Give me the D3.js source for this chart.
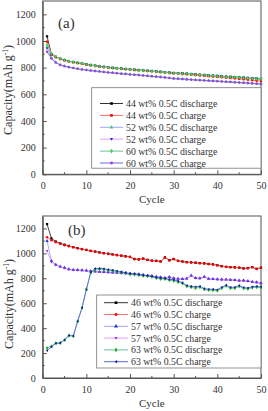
<!DOCTYPE html>
<html>
<head>
<meta charset="utf-8">
<script src="https://cdn.jsdelivr.net/npm/d3@7"></script>
<style>
  body { margin: 0; background: #fff; }
  svg text { font-family: "Liberation Serif"; }
</style>
</head>
<body>
<div id="chart"></div>
<script>
// ---- data ----
const cycles = d3.range(1, 51);
const yTicks = [0, 200, 400, 600, 800, 1000, 1200];
const xTicks = [0, 10, 20, 30, 40, 50];

// panel (a)
const a44Discharge = [1035,900,880,866,857,849,842,836,831,825,820,815,810,806,802,799,796,793,790,787,785,782,780,777,775,772,769,766,763,760,758,757,755,752,750,747,745,742,740,737,735,733,731,729,727,725,722,720,718,715];
const a44Charge    = [995,898,878,864,855,846,840,834,828,822,817,812,808,804,800,797,794,791,788,785,782,780,777,775,772,769,766,763,760,757,755,752,750,747,744,741,738,736,733,730,728,725,722,719,716,713,710,706,702,698];
const a52Discharge = [955,872,840,822,812,805,798,792,787,783,779,775,772,768,765,762,759,756,753,750,747,745,742,739,736,733,730,727,723,719,717,715,713,711,709,707,705,703,701,699,697,695,693,691,689,687,685,683,681,678];
const a52Charge    = [945,902,882,867,858,850,843,837,832,826,821,816,811,807,803,800,797,794,791,788,786,783,781,778,776,773,770,767,764,761,759,758,756,753,751,748,746,744,742,739,737,735,733,731,729,727,725,723,721,718];
const a60Discharge = [972,905,884,868,859,849,842,836,831,825,820,815,810,805,801,798,795,792,789,786,784,781,778,776,773,770,768,765,762,759,757,755,754,751,749,746,744,741,739,736,734,732,730,728,726,724,721,719,717,714];
const a60Charge    = [920,868,838,820,811,803,797,791,786,782,778,774,771,767,764,761,758,755,752,749,746,744,741,738,735,732,729,726,722,718,716,714,712,710,708,706,704,702,700,698,696,694,692,690,688,686,684,682,680,677];

// panel (b)
const b46Discharge = [1235,1120,1095,1080,1070,1060,1050,1042,1035,1028,1020,1015,1008,1002,997,992,987,982,977,972,955,952,958,948,942,940,935,968,945,955,940,935,930,928,925,922,920,915,912,905,898,892,890,888,885,880,882,890,876,885];
const b46Charge    = [1130,1105,1090,1077,1066,1058,1049,1041,1034,1027,1020,1014,1007,1001,996,991,986,981,976,971,954,951,957,947,941,939,934,966,944,954,939,934,929,927,924,921,919,914,911,904,897,891,889,887,884,879,881,889,875,884];
const b57Discharge = [1100,940,910,895,885,872,868,866,865,862,858,855,853,851,849,847,845,842,840,838,835,832,828,822,818,812,808,804,810,800,797,795,798,822,802,800,812,797,795,792,790,790,788,786,782,782,778,772,768,760];
const b57Charge    = [1020,930,905,892,882,870,866,864,863,860,856,853,851,849,847,845,843,840,838,836,833,830,826,820,816,810,806,802,808,798,795,793,796,820,800,798,810,795,793,790,788,788,786,784,780,780,776,770,766,758];
const b63Discharge = [240,255,280,282,305,340,335,455,565,715,845,868,872,870,865,860,852,848,842,832,830,826,820,818,812,802,795,795,785,780,770,758,735,728,720,728,710,706,705,700,720,738,720,720,735,718,715,725,728,725];
const b63Charge    = [220,250,278,280,305,342,338,455,562,708,848,878,880,876,870,865,858,852,846,838,836,831,825,822,817,808,802,800,792,788,778,765,742,736,732,736,718,712,712,708,728,745,728,728,742,726,722,732,736,732];

const FONT = "Liberation Serif";

const triDown = { draw: (ctx, s) => { const r = Math.sqrt(s) * 0.6; ctx.moveTo(0, r); ctx.lineTo(r, -r * 0.7); ctx.lineTo(-r, -r * 0.7); ctx.closePath(); } };
const triLeft = { draw: (ctx, s) => { const r = Math.sqrt(s) * 0.6; ctx.moveTo(-r, 0); ctx.lineTo(r * 0.7, -r); ctx.lineTo(r * 0.7, r); ctx.closePath(); } };

const panels = [
  {
    tag: "(a)", top: 1, bottom: 174.3, tagX: 58, tagY: 28,
    legend: {x: 91.7, y: 87.7, w: 169.3, h: 80.5, row0: 103.5, step: 11.9, lx0: 100, lx1: 123, tx: 126},
    labelY: 90, labelX: 8,
    series: [
      {name: "44 wt% 0.5C discharge", values: a44Discharge, line: "#333", mark: "#000", sym: d3.symbolSquare},
      {name: "44 wt% 0.5C charge", values: a44Charge, line: "#ff7070", mark: "#f00", sym: d3.symbolSquare},
      {name: "52 wt% 0.5C discharge", values: a52Discharge, line: "#9fa8ff", mark: "#4fc96f", sym: d3.symbolTriangle},
      {name: "52 wt% 0.5C charge", values: a52Charge, line: "#e89cff", mark: "#1c2fe0", sym: triDown},
      {name: "60 wt% 0.5C discharge", values: a60Discharge, line: "#6cc0a0", mark: "#3ddc3d", sym: d3.symbolDiamond},
      {name: "60 wt% 0.5C charge", values: a60Charge, line: "#6a6ae8", mark: "#a040e0", sym: d3.symbolCircle}
    ]
  },
  {
    tag: "(b)", top: 216, bottom: 378, tagX: 68, tagY: 235,
    legend: {x: 96.7, y: 295, w: 164.3, h: 73, row0: 302.7, step: 11.8, lx0: 104, lx1: 128, tx: 131},
    labelY: 304, labelX: 9,
    series: [
      {name: "46 wt% 0.5C discharge", values: b46Discharge, line: "#333", mark: "#000", sym: d3.symbolSquare},
      {name: "46 wt% 0.5C charge", values: b46Charge, line: "#ff7070", mark: "#f00", sym: d3.symbolCircle},
      {name: "57 wt% 0.5C discharge", values: b57Discharge, line: "#9fa8ff", mark: "#2030e0", sym: d3.symbolTriangle},
      {name: "57 wt% 0.5C charge", values: b57Charge, line: "#e89cff", mark: "#9a30e0", sym: triDown},
      {name: "63 wt% 0.5C discharge", values: b63Discharge, line: "#6cc0a0", mark: "#20b020", sym: d3.symbolDiamond},
      {name: "63 wt% 0.5C charge", values: b63Charge, line: "#5a6ae0", mark: "#101a90", sym: triLeft}
    ]
  }
];

const svg = d3.select("#chart").append("svg")
  .attr("width", 268).attr("height", 411);

const left = 42.7, right = 261;

panels.forEach(p => {
  const x = d3.scaleLinear().domain([0, 50]).range([left, right]);
  const y = d3.scaleLinear().domain([0, 1300]).range([p.bottom, p.top]);
  const g = svg.append("g");

  // frame
  g.append("rect")
    .attr("x", left).attr("y", p.top)
    .attr("width", right - left).attr("height", p.bottom - p.top)
    .attr("fill", "none").attr("stroke", "#555").attr("stroke-width", 1);

  // minor ticks (inward)
  g.selectAll(".ymin").data(d3.range(100, 1300, 200)).join("line")
    .attr("x1", left).attr("x2", left + 2)
    .attr("y1", d => y(d)).attr("y2", d => y(d))
    .attr("stroke", "#555");
  g.selectAll(".xmin").data(d3.range(5, 50, 10)).join("line")
    .attr("x1", d => x(d)).attr("x2", d => x(d))
    .attr("y1", p.bottom).attr("y2", p.bottom - 2)
    .attr("stroke", "#555");

  const yAxis = d3.axisLeft(y).tickValues(yTicks).tickFormat(d3.format("d"))
    .tickSizeInner(-4).tickSizeOuter(0).tickPadding(7);
  const xAxis = d3.axisBottom(x).tickValues(xTicks).tickFormat(d3.format("d"))
    .tickSizeInner(-4).tickSizeOuter(0).tickPadding(8);

  const ya = g.append("g").attr("transform", `translate(${left},0)`).call(yAxis);
  const xa = g.append("g").attr("transform", `translate(0,${p.bottom})`).call(xAxis);
  [ya, xa].forEach(a => {
    a.attr("font-family", FONT).attr("font-size", 10);
    a.select(".domain").attr("stroke", "#555");
    a.selectAll(".tick line").attr("stroke", "#555");
    a.selectAll(".tick text").attr("fill", "#333").attr("font-family", FONT);
  });

  // axis titles
  g.append("text").attr("x", (left + right) / 2).attr("y", p.bottom + 29)
    .attr("font-family", FONT)
    .attr("text-anchor", "middle").attr("font-size", 11).attr("fill", "#333").text("Cycle");
  const yl = g.append("text")
    .attr("transform", `translate(${p.labelX + 4},${p.labelY}) rotate(-90)`)
    .attr("font-family", FONT)
    .attr("text-anchor", "middle").attr("font-size", 12).attr("fill", "#333");
  yl.append("tspan").text("Capacity(mAh g");
  yl.append("tspan").attr("dy", -4).attr("font-size", 7.5).text("-1");
  yl.append("tspan").attr("dy", 4).text(")");

  g.append("text").attr("x", p.tagX).attr("y", p.tagY)
    .attr("font-family", FONT)
    .attr("font-size", 15).attr("fill", "#333").text(p.tag);

  // series lines and markers
  p.series.forEach(s => {
    const line = d3.line().x((d, i) => x(cycles[i])).y(d => y(d));
    g.append("path").datum(s.values)
      .attr("d", line).attr("fill", "none").attr("stroke", s.line).attr("stroke-width", 0.9);
  });
  p.series.forEach(s => {
    g.selectAll(null).data(s.values).join("path")
      .attr("transform", (d, i) => `translate(${x(cycles[i])},${y(d)})`)
      .attr("d", d3.symbol().type(s.sym).size(5))
      .attr("fill", s.mark);
  });

  // legend
  const L = p.legend;
  g.append("rect").attr("x", L.x).attr("y", L.y).attr("width", L.w).attr("height", L.h)
    .attr("fill", "#fff").attr("stroke", "#777").attr("stroke-width", 0.8);
  p.series.forEach((s, i) => {
    const yy = L.row0 + i * L.step;
    g.append("line").attr("x1", L.lx0).attr("x2", L.lx1).attr("y1", yy).attr("y2", yy)
      .attr("stroke", s.line).attr("stroke-width", 1);
    g.append("path").attr("transform", `translate(${(L.lx0 + L.lx1) / 2},${yy})`)
      .attr("d", d3.symbol().type(s.sym).size(7)).attr("fill", s.mark);
    g.append("text").attr("x", L.tx).attr("y", yy + 3.5)
      .attr("font-family", FONT)
      .attr("font-size", 9.8).attr("fill", "#333").text(s.name);
  });
});
</script>
</body>
</html>
